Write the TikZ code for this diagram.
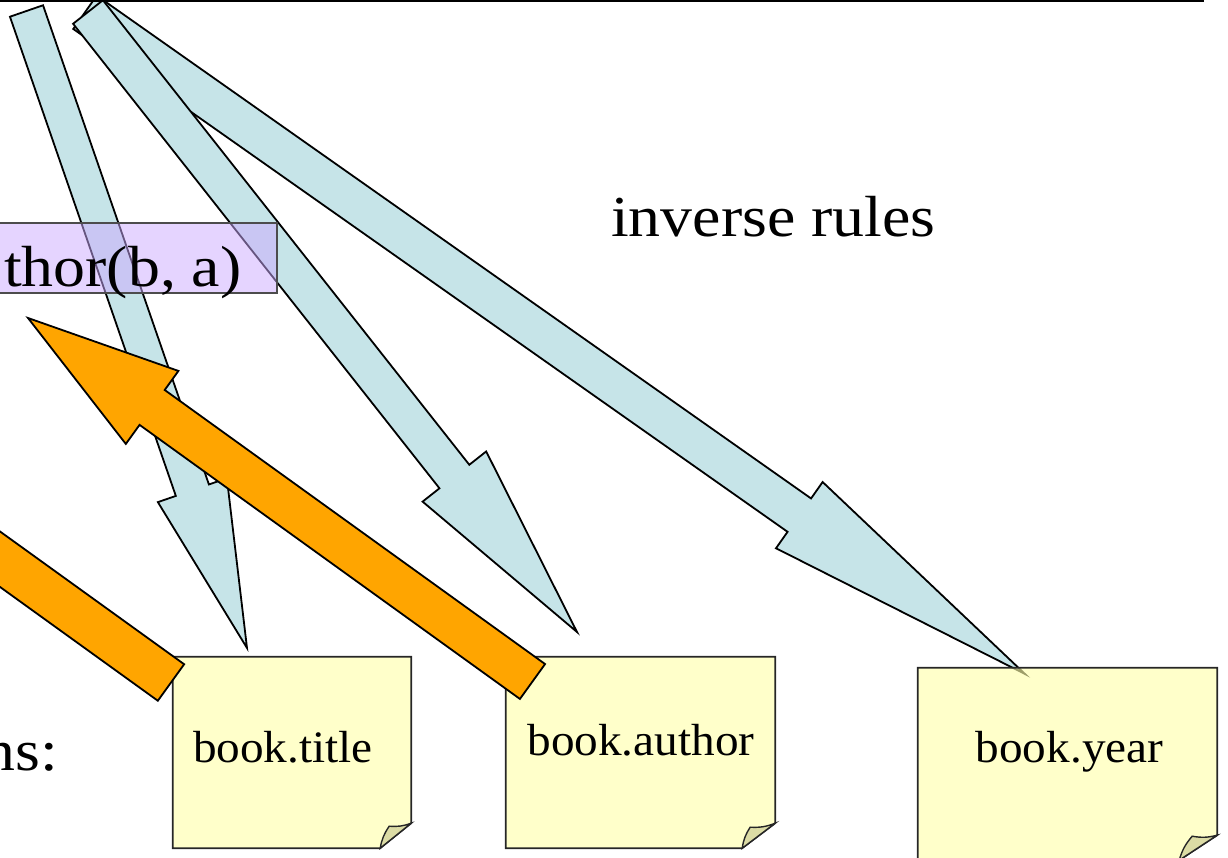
\documentclass[tikz,border=0pt]{standalone}
\usepackage{fontspec}
\setmainfont{Liberation Serif}[FakeStretch=1.05]
\newfontfamily\widefont{Liberation Serif}[FakeStretch=1.1]
\usetikzlibrary{calc}
\definecolor{blueA}{RGB}{198,228,232}
\definecolor{orangeA}{RGB}{255,165,0}
\definecolor{purpA}{RGB}{204,170,255}
\definecolor{yelA}{RGB}{255,255,170}
\definecolor{foldA}{RGB}{220,220,165}
% block arrow: #1 style, #2 tail, #3 tip, #4 shaft half width, #5 head half width, #6 head length
\newcommand\blockarr[6]{%
  \coordinate (hb) at ($(#3)!#6!(#2)$);
  \draw[#1] ($(#2)!#4!90:(#3)$) -- ($(hb)!#4!-90:(#2)$) -- ($(hb)!#5!-90:(#2)$) -- (#3)
    -- ($(hb)!#5!90:(#2)$) -- ($(hb)!#4!90:(#2)$) -- ($(#2)!#4!-90:(#3)$) -- cycle;}
% note box outline with folded corner: #1 node name, #2 fold dx, #3 inner x, #4 inner y
\newcommand\notepaper[4]{%
  \draw[notefill] (#1.north west) -- (#1.north east) -- ($(#1.south east)+(0,-25)$)
    -- ($(#1.south east)+(-#2,0)$) -- (#1.south west) -- cycle;
  \draw[foldfill] ($(#1.south east)+(-#2,0)$) to[bend left=12] ($(#1.south east)+(#3,#4)$)
    to[bend right=12] ($(#1.south east)+(0,-25)$) -- cycle;}
\begin{document}
\begin{tikzpicture}[x=1pt,y=-1pt,
  bluearr/.style={fill=blueA, draw=black, line width=1.8pt, line join=miter},
  orangearr/.style={fill=orangeA, draw=black, line width=1.8pt, line join=miter},
  notefill/.style={fill=yelA, fill opacity=0.62, draw=black!85, line width=1.7pt, draw opacity=1},
  foldfill/.style={fill=foldA, draw=black!85, line width=1.4pt},
  boxnode/.style={inner sep=0pt, draw=none},
  pboxstyle/.style={fill=purpA, fill opacity=0.5, draw=black!70, draw opacity=1, line width=1.6pt, inner sep=0pt},
  lbl/.style={inner sep=0pt, font=\fontsize{45}{50}\selectfont},
  bigtxt/.style={inner sep=0pt, font=\widefont\fontsize{58}{62}\selectfont}]
\useasboundingbox (0,0) rectangle (1228,858);
\clip (0,0) rectangle (1228,858);

% arrow end points
\coordinate (b1t) at (26.5,11);  \coordinate (b1h) at (247,648);
\coordinate (b2t) at (88,12);    \coordinate (b2h) at (577,632);
\coordinate (b3t) at (85,12.3);  \coordinate (b3h) at (1025,674);
\coordinate (o1t) at (532.5,681.5); \coordinate (o1h) at (28,318);
\coordinate (o2t) at (171,682.5);   \coordinate (o2h) at (-397,273);

% blue inverse-rule arrows
\blockarr{bluearr}{b3t}{b3h}{20.4pt}{40.5pt}{276pt}
\blockarr{bluearr}{b2t}{b2h}{19pt}{40.5pt}{198pt}
\blockarr{bluearr}{b1t}{b1h}{17.5pt}{36.5pt}{167pt}

% rule box
\node[pboxstyle, minimum width=287pt, minimum height=70pt] (rbox) at (133.5,258) {};

% note boxes
\node[boxnode, minimum width=238pt, minimum height=191pt] (tbox) at (292,752.5) {};
\node[boxnode, minimum width=269pt, minimum height=191pt] (abox) at (640.5,752.5) {};
\node[boxnode, minimum width=299pt, minimum height=192pt] (ybox) at (1067.5,764) {};
\notepaper{tbox}{31}{-22}{-22}
\notepaper{abox}{33}{-25}{-21}
\notepaper{ybox}{38}{-25}{-24}

% orange arrows
\blockarr{orangearr}{o2t}{o2h}{22.5pt}{45pt}{153pt}
\blockarr{orangearr}{o1t}{o1h}{21.5pt}{45pt}{153pt}

% texts
\node[bigtxt, anchor=base west] (rtxt) at (4,287) {thor(b, a)};
\node[bigtxt, anchor=base west] (inv) at (611,237) {inverse rules};
\node[bigtxt, anchor=base east] (ns) at (58,770) {ns:};
\node[lbl, anchor=base] (ttxt) at (283,762) {book.title};
\node[lbl, anchor=base] (atxt) at (641,755) {book.author};
\node[lbl, anchor=base] (ytxt) at (1069.5,762) {book.year};

% top rule
\coordinate (tl) at (0,1); \coordinate (tr) at (1204,1);
\draw[line width=2pt] (tl) -- (tr);
\end{tikzpicture}
\end{document}
